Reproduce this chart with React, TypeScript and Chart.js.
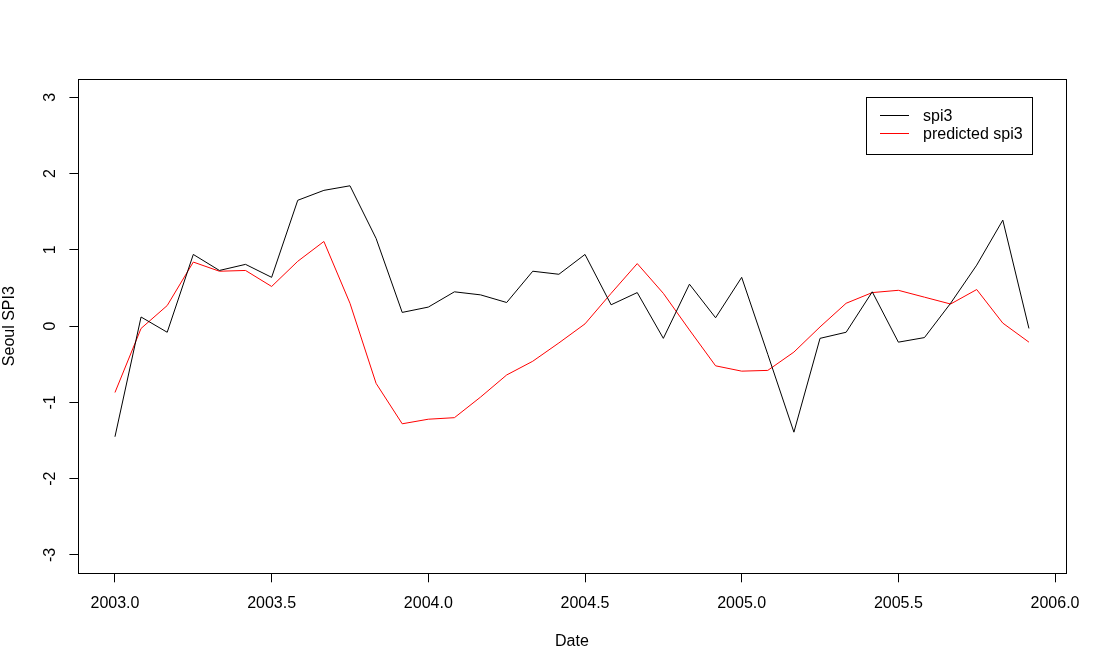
import { useEffect, useRef } from "react";
import { Chart, registerables } from "chart.js";

Chart.register(...registerables);

// Monthly time index (decimal years)
const times = [
  2003.0, 2003.0833, 2003.1667, 2003.25, 2003.3333, 2003.4167,
  2003.5, 2003.5833, 2003.6667, 2003.75, 2003.8333, 2003.9167,
  2004.0, 2004.0833, 2004.1667, 2004.25, 2004.3333, 2004.4167,
  2004.5, 2004.5833, 2004.6667, 2004.75, 2004.8333, 2004.9167,
  2005.0, 2005.0833, 2005.1667, 2005.25, 2005.3333, 2005.4167,
  2005.5, 2005.5833, 2005.6667, 2005.75, 2005.8333, 2005.9167,
];

const spi3 = [
  -1.45, 0.12, -0.08, 0.94, 0.73, 0.81, 0.64, 1.65, 1.78, 1.84, 1.15, 0.18,
  0.25, 0.45, 0.41, 0.31, 0.72, 0.68, 0.94, 0.28, 0.44, -0.16, 0.55, 0.11,
  0.64, -0.37, -1.39, -0.16, -0.08, 0.45, -0.21, -0.15, 0.3, 0.8, 1.39, -0.03,
];

const predictedSpi3 = [
  -0.87, -0.03, 0.27, 0.84, 0.72, 0.73, 0.52, 0.85, 1.11, 0.3, -0.75, -1.28,
  -1.22, -1.2, -0.93, -0.64, -0.46, -0.22, 0.03, 0.43, 0.82, 0.43, -0.05, -0.52,
  -0.59, -0.58, -0.34, -0.01, 0.3, 0.44, 0.47, 0.38, 0.29, 0.48, 0.04, -0.21,
];

const seriesLabels = ["spi3", "predicted spi3"];
const seriesColors = ["#000000", "#ff0000"];
const xTicks = [2003.0, 2003.5, 2004.0, 2004.5, 2005.0, 2005.5, 2006.0];
const yTicks = [-3, -2, -1, 0, 1, 2, 3];
const yLimits = [-3, 3];
const xTitle = "Date";
const yTitle = "Seoul SPI3";

const FONT_FAMILY = '"Liberation Sans", Arial, sans-serif';
const FONT = { family: FONT_FAMILY, size: 16, lineHeight: 1.2 };

const rFramePlugin = {
  id: "rFrame",
  afterDraw(chart: any) {
    const { ctx, chartArea: a } = chart;
    const L = Math.round(a.left);
    const R = Math.round(a.right);
    const T = Math.round(a.top);
    const B = Math.round(a.bottom);
    ctx.save();
    ctx.strokeStyle = "#000";
    ctx.lineWidth = 1;
    ctx.strokeRect(L + 0.5, T + 0.5, R - L, B - T);

    // legend box (top right, R style)
    ctx.font = `16px ${FONT_FAMILY}`;
    const ds = chart.data.datasets;
    const tw = Math.max(...ds.map((d: any) => ctx.measureText(d.label).width));
    const boxW = Math.round(13.5 + 29 + 14 + tw + 9.5);
    const right = R - 34;
    const left = right - boxW;
    const top = T + 18;
    const rowH = 17.6;
    const h = Math.round(18.4 + rowH + 20.6);
    ctx.strokeRect(left + 0.5, top + 0.5, boxW, h);
    ds.forEach((d: any, i: number) => {
      const y = Math.round(top + 18.4 + i * rowH) + 0.5;
      ctx.beginPath();
      ctx.strokeStyle = d.borderColor;
      ctx.moveTo(left + 14, y);
      ctx.lineTo(left + 43, y);
      ctx.stroke();
      ctx.fillStyle = "#000";
      ctx.textAlign = "left";
      ctx.textBaseline = "middle";
      ctx.fillText(d.label, left + 57, y + 1);
    });
    ctx.restore();
  },
};

export default function App() {
  const ref = useRef<HTMLCanvasElement | null>(null);

  useEffect(() => {
    if (!ref.current) return;
    const xSpan = times[times.length - 1] - times[0];
    const xMin = times[0] - 0.04 * xSpan;
    const xMax = times[times.length - 1] + 0.04 * xSpan;
    const ySpan = yLimits[1] - yLimits[0];
    const yMin = yLimits[0] - 0.04 * ySpan;
    const yMax = yLimits[1] + 0.04 * ySpan;

    const chart = new Chart(ref.current, {
      type: "line",
      data: {
        datasets: [
          {
            label: seriesLabels[0],
            data: times.map((t, i) => ({ x: t, y: spi3[i] })),
            borderColor: seriesColors[0],
            borderWidth: 1,
            pointRadius: 0,
            tension: 0,
            fill: false,
          },
          {
            label: seriesLabels[1],
            data: times.map((t, i) => ({ x: t, y: predictedSpi3[i] })),
            borderColor: seriesColors[1],
            borderWidth: 1,
            pointRadius: 0,
            tension: 0,
            fill: false,
          },
        ],
      },
      options: {
        responsive: false,
        animation: false,
        events: [],
        layout: { padding: { top: 79, right: 40.5, left: 0, bottom: 0 } },
        plugins: {
          legend: { display: false },
          tooltip: { enabled: false },
          title: { display: false },
        },
        scales: {
          x: {
            type: "linear",
            min: xMin,
            max: xMax,
            afterBuildTicks: (s: any) => {
              s.ticks = xTicks.map((v) => ({ value: v }));
            },
            afterFit: (s: any) => {
              s.height = 97.7;
            },
            ticks: {
              autoSkip: false,
              maxRotation: 0,
              minRotation: 0,
              padding: 12,
              color: "#000",
              font: FONT,
              callback: (v: any) => Number(v).toFixed(1),
            },
            grid: {
              drawOnChartArea: false,
              drawTicks: true,
              tickLength: 9,
              color: "#000",
              lineWidth: 1,
            },
            border: { display: false },
            title: {
              display: true,
              text: xTitle,
              color: "#000",
              font: FONT,
              padding: { top: 0, bottom: 20 },
            },
          },
          y: {
            type: "linear",
            min: yMin,
            max: yMax,
            afterBuildTicks: (s: any) => {
              s.ticks = yTicks.map((v) => ({ value: v }));
            },
            afterFit: (s: any) => {
              s.width = 78.4;
            },
            ticks: {
              autoSkip: false,
              minRotation: 90,
              maxRotation: 90,
              crossAlign: "center",
              padding: 12,
              color: "#000",
              font: FONT,
              callback: (v: any) => String(v),
            },
            grid: {
              drawOnChartArea: false,
              drawTicks: true,
              tickLength: 9,
              color: "#000",
              lineWidth: 1,
            },
            border: { display: false },
            title: {
              display: true,
              text: yTitle,
              color: "#000",
              font: FONT,
              padding: { top: 0, bottom: 0 },
            },
          },
        },
      } as any,
      plugins: [rFramePlugin],
    });
    return () => chart.destroy();
  }, []);

  return (
    <div style={{ position: "absolute", left: 0, top: 0, width: 1106, height: 671, background: "#fff" }}>
      <canvas ref={ref} width={1106} height={671} style={{ display: "block" }} />
    </div>
  );
}
